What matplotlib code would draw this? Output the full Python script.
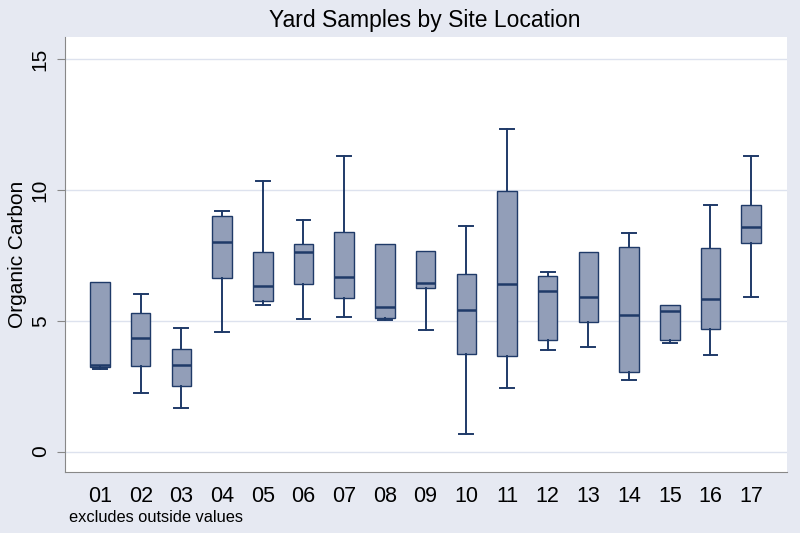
import matplotlib
matplotlib.use("Agg")
import matplotlib.pyplot as plt

plt.rcParams["font.family"] = ["Liberation Sans", "DejaVu Sans"]

# site labels
sites = ["01", "02", "03", "04", "05", "06", "07", "08", "09",
         "10", "11", "12", "13", "14", "15", "16", "17"]

# box statistics (outside values excluded)
whisk_lo = [3.17, 2.25, 1.65, 4.59, 5.61, 5.08, 5.14, 5.04, 4.65,
            0.66, 2.42, 3.90, 4.00, 2.74, 4.16, 3.70, 5.92]
q1 = [3.22, 3.28, 2.51, 6.65, 5.75, 6.40, 5.86, 5.10, 6.27,
      3.74, 3.64, 4.26, 4.97, 3.03, 4.28, 4.69, 7.98]
med = [3.31, 4.36, 3.32, 8.03, 6.33, 7.65, 6.69, 5.53, 6.46,
       5.42, 6.40, 6.14, 5.92, 5.22, 5.39, 5.84, 8.59]
q3 = [6.49, 5.31, 3.91, 9.00, 7.63, 7.93, 8.40, 7.93, 7.68,
      6.80, 9.96, 6.73, 7.63, 7.83, 5.60, 7.79, 9.43]
whisk_hi = [6.49, 6.04, 4.74, 9.22, 10.35, 8.86, 11.31, 7.93, 7.68,
            8.64, 12.33, 6.87, 7.63, 8.37, 5.60, 9.45, 11.31]

bg = "#e6e9f2"
navy = "#1f3a68"
fill = "#929eb8"

stats = []
for i in range(len(sites)):
    stats.append({"label": sites[i], "whislo": whisk_lo[i], "q1": q1[i],
                  "med": med[i], "q3": q3[i], "whishi": whisk_hi[i],
                  "fliers": []})

fig = plt.figure(figsize=(8, 5.33), dpi=100, facecolor=bg)
ax = fig.add_axes([65/800, 1 - 472/533, (787 - 65)/800, (472 - 37)/533])
ax.set_facecolor("white")

parts = ax.bxp(stats, positions=range(1, len(sites) + 1), widths=0.48,
               patch_artist=True, showfliers=False,
               boxprops=dict(facecolor=fill, edgecolor=navy, linewidth=1.0),
               medianprops=dict(color=navy, linewidth=1.8),
               whiskerprops=dict(color=navy, linewidth=1.4),
               capprops=dict(color=navy, linewidth=1.4),
               capwidths=0.34)

# no cap when the whisker ends on the box edge
for i in range(len(sites)):
    if whisk_hi[i] <= q3[i]:
        parts["caps"][2 * i + 1].set_visible(False)
    if whisk_lo[i] >= q1[i]:
        parts["caps"][2 * i].set_visible(False)

ax.set_xlim(0.14, 17.88)
ax.set_ylim(-0.78, 15.86)
ax.set_yticks([0, 5, 10, 15])
ax.set_yticklabels(["0", "5", "10", "15"], rotation=90, va="center", fontsize=15)
ax.yaxis.grid(True, color="#dde2ee", linewidth=1.0)
ax.set_axisbelow(True)
ax.tick_params(axis="x", length=0, labelsize=15.5, pad=10)
ax.tick_params(axis="y", length=6, color="#888888", pad=5)

for side in ["top", "right"]:
    ax.spines[side].set_visible(False)
ax.spines["left"].set_color("#888888")
ax.spines["bottom"].set_color("#888888")

ax.set_ylabel("Organic Carbon", fontsize=15, labelpad=3)
fig.text(425/800, 1 - 21/533, "Yard Samples by Site Location",
         ha="center", va="center", fontsize=16.5)
fig.text(69/800, 1 - 518/533, "excludes outside values",
         ha="left", va="center", fontsize=11.8)

fig.savefig("out.png", dpi=100, facecolor=bg)
